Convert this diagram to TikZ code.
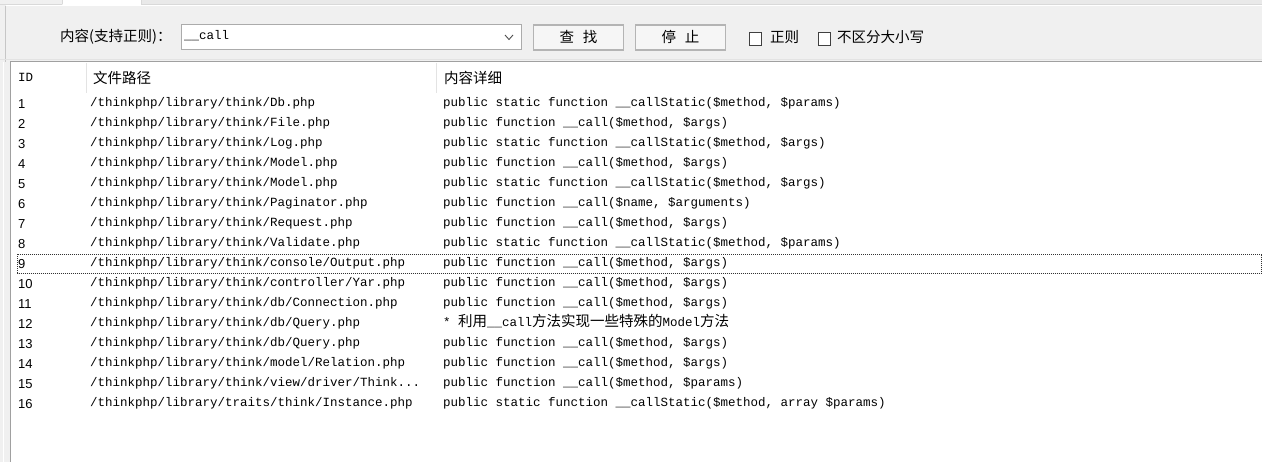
\documentclass[tikz,border=0pt]{standalone}
\usepackage{fontspec}
\setmainfont{Liberation Sans}
\newfontfamily\cjk{Noto Sans CJK SC}
\newfontfamily\mono{Liberation Mono}
\definecolor{panelbg}{HTML}{F0F0F0}
\definecolor{stripbg}{HTML}{E9E9E9}
\definecolor{edgegray}{HTML}{D9D9D9}
\definecolor{framegray}{HTML}{A0A0A0}
\definecolor{boxgray}{HTML}{ABABAB}
\definecolor{btnfill}{HTML}{F6F6F6}
\definecolor{btnline}{HTML}{B4B4B4}
\definecolor{sepgray}{HTML}{E3E3E3}

\tikzset{
    zh/.style={inner sep=0pt, text height=12pt, text depth=2pt, font=\cjk\fontsize{14.5}{14.5}\selectfont},
    cell/.style={anchor=west, inner sep=0pt, text height=8.5pt, text depth=2.5pt, font=\mono\fontsize{12.5}{12.5}\selectfont},
    num/.style={anchor=west, inner sep=0pt, text height=9pt, text depth=0pt, font=\fontsize{13}{13}\selectfont},
    btn/.style={zh, draw=btnline, fill=btnfill, line width=1.4pt, minimum width=90pt, minimum height=25pt},
    chk/.style={draw=black!75, line width=0.9pt, fill=white, minimum width=12pt, minimum height=13pt, inner sep=0pt},
    focus/.style={draw=black!80, line width=0.8pt, dash pattern=on 1pt off 1pt}
}

\begin{document}
\begin{tikzpicture}[x=1pt, y=-1pt]
    \useasboundingbox (0,0) rectangle (1262,462);

    % Window background and tab strip
    \fill[panelbg] (0,0) rectangle (1262,462);
    \fill[stripbg] (141,0) rectangle (1262,4);
    \draw[edgegray] (0,4) -- (62,4) (141,4) -- (1262,4);
    \draw[white, line width=1pt] (6,5.5) -- (1262,5.5);
    \draw[edgegray] (62,0) -- (62,4) (141,0) -- (141,4);
    \fill[white] (62.5,0) rectangle (140.5,5);
    \draw[framegray!60] (5.5,6) -- (5.5,62);

    % Search bar
    \node[zh, anchor=west] (lbl) at (60,37) {内容(支持正则)：};
    \node[draw=boxgray, fill=white, line width=1pt, minimum width=340pt, minimum height=25pt, anchor=west, inner sep=0pt] (combo) at (180.5,37) {};
    \node[cell] (query) at (184,37) {\_\_call};
    \draw[black!70, line width=0.9pt] (505,35) -- (509,39.5) -- (513,35);
    \node[btn] (find) at (578.5,37.5) {查\hspace{9pt}找};
    \node[btn] (stop) at (680.5,37.5) {停\hspace{9pt}止};
    \node[chk] (chkregex) at (755.5,38.5) {};
    \node[zh, anchor=west] (regex) at (770,38) {正则};
    \node[chk] (chkcase) at (824,38.5) {};
    \node[zh, anchor=west] (nocase) at (837,38) {不区分大小写};

    % Result list
    \draw[sepgray, line width=1pt] (0,60) -- (1262,60);
    \fill[white] (10,62) rectangle (1262,462);
    \draw[framegray, line width=1.5pt] (10,61.5) -- (1262,61.5);
    \draw[framegray, line width=1.5pt] (10.5,61.5) -- (10.5,462);
    \draw[white, line width=1pt] (3,62) -- (3,462);

    % Header row
    \node[cell] (hid) at (18,79) {ID};
    \node[zh, anchor=west] (hpath) at (93,79) {文件路径};
    \node[zh, anchor=west] (hdetail) at (444,79) {内容详细};
    \draw[sepgray, line width=1pt] (86.5,63) -- (86.5,93) (436.5,63) -- (436.5,93);

    % Rows
    \foreach \i/\p/\c in {
        1/{/thinkphp/library/think/Db.php}/{public static function \_\_callStatic(\$method, \$params)},
        2/{/thinkphp/library/think/File.php}/{public function \_\_call(\$method, \$args)},
        3/{/thinkphp/library/think/Log.php}/{public static function \_\_callStatic(\$method, \$args)},
        4/{/thinkphp/library/think/Model.php}/{public function \_\_call(\$method, \$args)},
        5/{/thinkphp/library/think/Model.php}/{public static function \_\_callStatic(\$method, \$args)},
        6/{/thinkphp/library/think/Paginator.php}/{public function \_\_call(\$name, \$arguments)},
        7/{/thinkphp/library/think/Request.php}/{public function \_\_call(\$method, \$args)},
        8/{/thinkphp/library/think/Validate.php}/{public static function \_\_callStatic(\$method, \$params)},
        9/{/thinkphp/library/think/console/Output.php}/{public function \_\_call(\$method, \$args)},
        10/{/thinkphp/library/think/controller/Yar.php}/{public function \_\_call(\$method, \$args)},
        11/{/thinkphp/library/think/db/Connection.php}/{public function \_\_call(\$method, \$args)},
        12/{/thinkphp/library/think/db/Query.php}/{* {\cjk\fontsize{14.5}{14.5}\selectfont 利用}\_\_call{\cjk\fontsize{14.5}{14.5}\selectfont 方法实现一些特殊的}Model{\cjk\fontsize{14.5}{14.5}\selectfont 方法}},
        13/{/thinkphp/library/think/db/Query.php}/{public function \_\_call(\$method, \$args)},
        14/{/thinkphp/library/think/model/Relation.php}/{public function \_\_call(\$method, \$args)},
        15/{/thinkphp/library/think/view/driver/Think...}/{public function \_\_call(\$method, \$params)},
        16/{/thinkphp/library/traits/think/Instance.php}/{public static function \_\_callStatic(\$method, array \$params)}} {
        \node[num] (id\i) at (18,84+20*\i) {\i};
        \node[cell] (path\i) at (90,84+20*\i) {\p};
        \node[cell] (detail\i) at (443,84+20*\i) {\c};
    }

    % Focus frame on row 9
    \draw[focus] (17.5,254.5) rectangle (1261.5,273.5);
\end{tikzpicture}
\end{document}
